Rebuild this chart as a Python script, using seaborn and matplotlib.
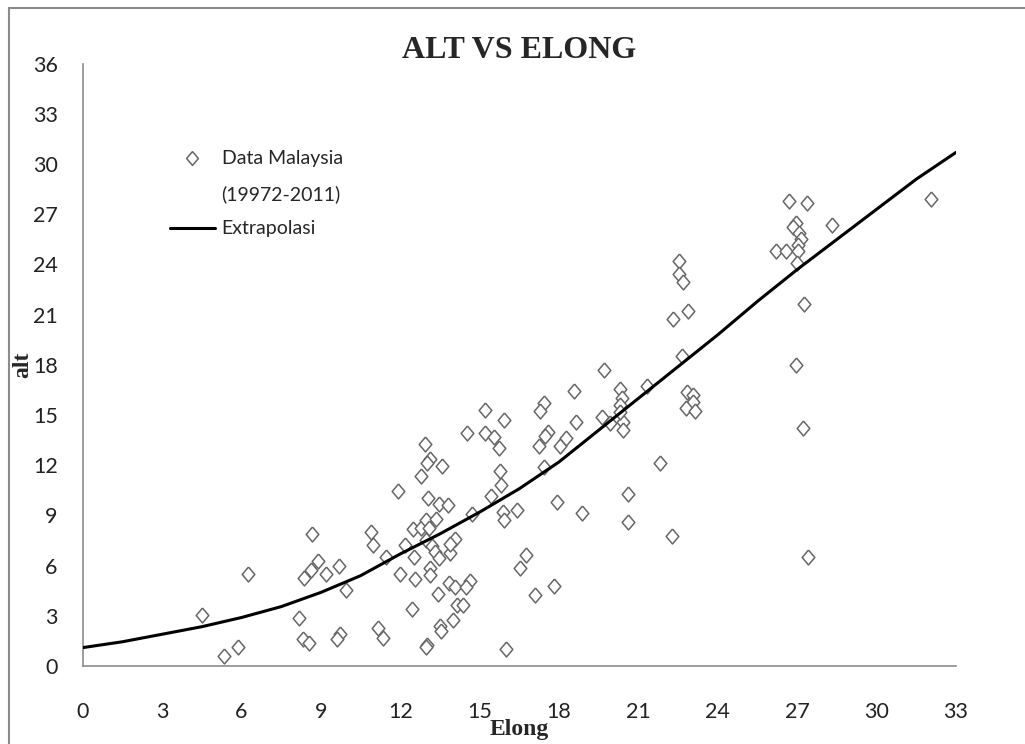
import seaborn as sns
import matplotlib.pyplot as plt
import numpy as np
import pandas as pd
from matplotlib.lines import Line2D
from matplotlib.patches import Rectangle

elong = [8.67, 8.88, 8.62, 8.36, 9.18, 9.68, 9.96, 6.26, 4.50, 8.18, 8.33, 8.56, 5.88, 5.34, 9.72, 9.62,
         15.21, 15.93, 14.53, 15.22, 15.54, 15.74, 12.94, 13.12, 13.02, 13.57, 12.78, 15.78, 15.81, 15.43,
         11.92, 13.03, 13.46, 13.81, 14.70, 15.88, 15.92, 16.42, 10.89, 10.98, 11.45, 12.18, 12.47, 12.79,
         12.96, 13.34, 13.09, 12.97, 13.18, 13.32, 13.47, 13.86, 14.07, 12.52, 11.99, 12.57, 13.12, 13.12,
         13.41, 13.83, 14.08, 14.62, 14.48, 14.14, 14.38, 13.98, 13.50, 13.54, 12.43, 11.14, 11.36, 13.00,
         12.97, 15.98, 16.74, 16.51, 17.08,
         18.56, 20.30, 20.39, 20.30, 21.31, 17.44, 17.29, 17.57, 17.47, 17.25, 18.03, 18.26, 18.64, 19.63,
         19.92, 20.42, 20.42, 17.44, 17.91, 18.85, 20.59, 20.61, 17.82, 20.32,
         19.71, 22.65, 22.82, 23.07, 23.07, 22.79, 23.13, 21.81, 22.27,
         26.69, 27.37, 26.97, 26.85, 27.07, 27.14, 27.03, 26.18, 26.57, 27.03, 27.00, 28.32, 27.25, 26.95,
         27.20, 27.41, 32.07,
         22.54, 22.54, 22.69, 22.88, 22.31, 13.88]
alt = [7.89, 6.28, 5.74, 5.24, 5.48, 5.98, 4.54, 5.48, 3.03, 2.89, 1.61, 1.36, 1.15, 0.62, 1.91, 1.60,
       15.30, 14.69, 13.94, 13.94, 13.67, 13.05, 13.25, 12.39, 12.12, 11.95, 11.36, 11.66, 10.80, 10.18,
       10.48, 10.06, 9.67, 9.62, 9.10, 9.22, 8.74, 9.31, 8.03, 7.23, 6.53, 7.21, 8.17, 8.27,
       8.73, 8.79, 8.23, 7.53, 7.19, 6.83, 6.44, 6.77, 7.59, 6.52, 5.48, 5.22, 5.84, 5.44,
       4.30, 4.98, 4.74, 5.08, 4.72, 3.65, 3.63, 2.73, 2.41, 2.09, 3.41, 2.25, 1.66, 1.26,
       1.15, 1.00, 6.65, 5.88, 4.24,
       16.44, 16.54, 16.00, 15.60, 16.74, 15.70, 15.24, 14.00, 13.75, 13.17, 13.15, 13.65, 14.57, 14.87,
       14.51, 14.60, 14.11, 11.91, 9.78, 9.16, 10.30, 8.63, 4.78, 15.20,
       17.69, 18.55, 16.36, 16.20, 15.80, 15.40, 15.26, 12.12, 7.77,
       27.81, 27.66, 26.46, 26.26, 25.86, 25.50, 25.16, 24.82, 24.82, 24.82, 24.07, 26.38, 21.64, 17.99,
       14.21, 6.53, 27.90,
       24.23, 23.43, 22.97, 21.22, 20.72, 7.27]

# Extrapolation curve
curve_x = [0, 1.5, 3, 4.5, 6, 7.5, 9, 10.5, 12, 13.5, 15, 16.5, 18, 19.5, 21, 22.5, 24, 25.5, 27, 28.5, 30, 31.5, 33]
curve_y = [1.1, 1.45, 1.9, 2.35, 2.9, 3.55, 4.4, 5.4, 6.7, 7.9, 9.2, 10.6, 12.2, 14.1, 16.0, 17.9, 19.8,
           21.8, 23.7, 25.5, 27.3, 29.1, 30.7]

ticks = list(range(0, 37, 3))
x_ticks = list(range(0, 34, 3))

points = pd.DataFrame({"Elong": elong, "alt": alt})
curve = pd.DataFrame({"Elong": curve_x, "alt": curve_y})

sns.set_style("white")
plt.rcParams['font.family'] = ['Lato', 'DejaVu Sans']

fig = plt.figure(figsize=(10.25, 7.44), dpi=100)
ax = fig.add_axes([0.0807, 0.1048, 0.8520, 0.8096])

diamond = [(0, 1), (0.85, 0), (0, -1), (-0.85, 0), (0, 1)]
sns.scatterplot(data=points, x="Elong", y="alt", ax=ax, marker=diamond, s=115,
                facecolor='white', edgecolor='#666666', linewidth=1.1, zorder=2)
sns.lineplot(data=curve, x="Elong", y="alt", ax=ax, color='black', linewidth=2.2, zorder=3)

ax.set_xlim(0, 33)
ax.set_ylim(0, 36)
ax.set_xticks(x_ticks)
ax.set_yticks(ticks)
ax.tick_params(axis='both', length=0, labelsize=15.5, colors='#222222')
ax.tick_params(axis='x', pad=26)
ax.tick_params(axis='y', pad=18)
for side in ['top', 'right']:
    ax.spines[side].set_visible(False)
for side in ['left', 'bottom']:
    ax.spines[side].set_color('#8c8c8c')
    ax.spines[side].set_linewidth(1.2)

ax.set_xlabel('Elong', family='Liberation Serif', fontweight='bold', fontsize=17, labelpad=-2)
ax.set_ylabel('alt', family='Liberation Serif', fontweight='bold', fontsize=17)
ax.yaxis.set_label_coords(-0.057, 0.5)
ax.set_title('ALT VS ELONG', family='Liberation Serif', fontweight='bold', fontsize=23, pad=4)

handles = [Line2D([], [], marker=diamond, markersize=10, linestyle='none',
                  markerfacecolor='white', markeredgecolor='#666666', markeredgewidth=1.1),
           Line2D([], [], linestyle='none'),
           Line2D([], [], color='black', linewidth=2.2)]
labels = ['Data Malaysia', '(19972-2011)', 'Extrapolasi']
ax.legend(handles, labels, loc='upper left', bbox_to_anchor=(0.08, 0.885), frameon=False,
          fontsize=14, handlelength=2.3, handletextpad=0.35, labelspacing=0.9)

fig.patches.append(Rectangle((9 / 1025, -0.1), 1.2, 0.1 + 1 - 8 / 744, transform=fig.transFigure,
                             fill=False, edgecolor='#8c8c8c', linewidth=1.5))

fig.savefig('out.png', dpi=100)
